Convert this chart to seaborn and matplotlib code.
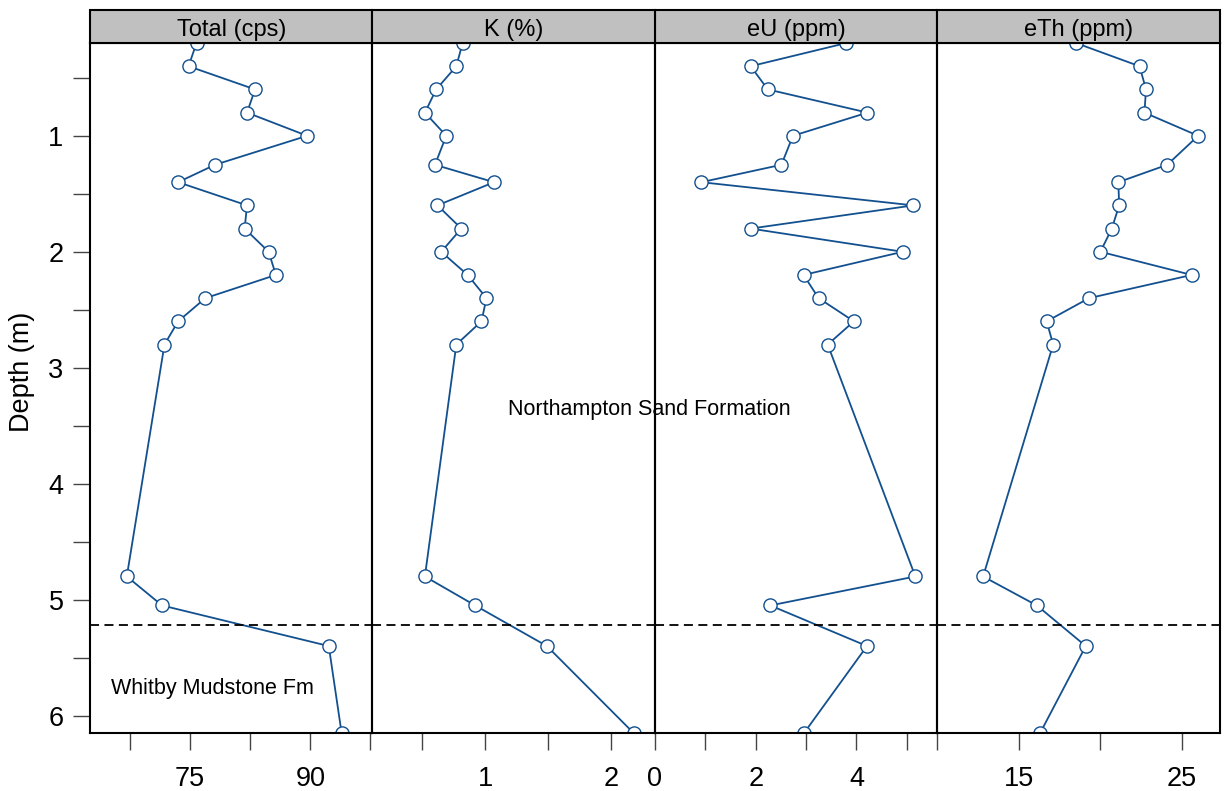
# gamma-ray log profile, four panels sharing depth axis

import matplotlib
matplotlib.use("Agg")
import matplotlib.pyplot as plt
from matplotlib.patches import Rectangle
import seaborn as sns


depth = [0.2, 0.4, 0.6, 0.8, 1.0, 1.25, 1.4, 1.6, 1.8, 2.0, 2.2, 2.4, 2.6, 2.8, 4.8, 5.05, 5.4, 6.15]
total = [75.8, 74.8, 83.1, 82.1, 89.6, 78.1, 73.5, 82.1, 81.8, 84.8, 85.7, 76.9, 73.5, 71.8, 67.1, 71.5, 92.3, 93.9]
k_pct = [0.82, 0.77, 0.61, 0.52, 0.69, 0.60, 1.07, 0.62, 0.81, 0.65, 0.86, 1.01, 0.97, 0.77, 0.52, 0.92, 1.49, 2.18]
eu = [3.80, 1.90, 2.24, 4.22, 2.74, 2.51, 0.92, 5.13, 1.90, 4.92, 2.95, 3.25, 3.95, 3.43, 5.17, 2.29, 4.21, 2.96]
eth = [18.5, 22.4, 22.8, 22.7, 26.0, 24.1, 21.1, 21.15, 20.7, 20.0, 25.6, 19.3, 16.7, 17.1, 12.8, 16.1, 19.1, 16.3]

titles = ["Total (cps)", "K (%)", "eU (ppm)", "eTh (ppm)"]
series = [total, k_pct, eu, eth]
xlims = [(62.5, 97.75), (0.103, 2.35), (0.0, 5.61), (10.0, 27.34)]
xticks = [[67.5, 75, 82.5, 90, 97.5], [0.5, 1, 1.5, 2], [0, 1, 2, 3, 4, 5], [10, 15, 20, 25]]
xticklabels = [["", "75", "", "90", ""], ["", "1", "", "2"], ["0", "", "2", "", "4", ""], ["", "15", "", "25"]]

yticks = [0.5, 1, 1.5, 2, 2.5, 3, 3.5, 4, 4.5, 5, 5.5, 6]
yticklabels = ["", "1", "", "2", "", "3", "", "4", "", "5", "", "6"]

boundary = 5.22

blue = "#12508f"


def main():
    sns.set_style("white")
    plt.rcParams['font.family'] = ['Liberation Sans', 'DejaVu Sans']
    plt.rcParams['text.color'] = 'black'
    plt.rcParams['axes.labelcolor'] = 'black'
    plt.rcParams['xtick.labelcolor'] = 'black'
    plt.rcParams['ytick.labelcolor'] = 'black'

    fig, axes = plt.subplots(1, 4, figsize=(12.27, 7.91), dpi=100, sharey=True)
    fig.subplots_adjust(left=0.0733, right=0.9943, bottom=0.0733, top=0.9456, wspace=0)
    fig.patch.set_facecolor("white")

    strip_h = 33 / 690

    for i, ax in enumerate(axes):
        ax.set_facecolor("none")
        sns.lineplot(x=series[i], y=depth, orient="y", sort=False, estimator=None, ax=ax,
                     color=blue, lw=1.3, marker="o", markersize=9.5,
                     markerfacecolor="white", markeredgecolor=blue, markeredgewidth=1)
        ax.axhline(boundary, color="black", ls=(0, (5, 3)), lw=1.3)

        ax.set_xlim(*xlims[i])
        ax.set_xticks(xticks[i])
        ax.set_xticklabels(xticklabels[i])
        ax.set_xlabel("")
        ax.tick_params(axis="x", direction="out", length=12, width=1, color="#444444",
                       labelsize=19.5, pad=12, bottom=True, labelcolor="black")

        for sp in ax.spines.values():
            sp.set_color("black")
            sp.set_linewidth(1.5)

        # strip on top
        ax.add_patch(Rectangle((0, 1), 1, strip_h, transform=ax.transAxes, clip_on=False,
                               facecolor="#c0c0c0", edgecolor="black", lw=1.5, zorder=5))
        ax.text(0.5, 1 + strip_h * 0.4, titles[i], transform=ax.transAxes,
                ha="center", va="center", fontsize=17, color="black", zorder=6)

        if i > 0:
            ax.tick_params(axis="y", left=False)

    ax0 = axes[0]
    ax0.set_ylim(6.15, 0.2)
    ax0.set_yticks(yticks)
    ax0.set_yticklabels(yticklabels)
    ax0.tick_params(axis="y", direction="out", length=12, width=1, color="#444444",
                    labelsize=19.5, pad=7, left=True, labelcolor="black")
    ax0.set_ylabel("Depth (m)", fontsize=19.5, color="black")
    ax0.yaxis.set_label_coords(-0.195, 0.523)

    ax0.text(65.1, 5.77, "Whitby Mudstone Fm", ha="left", va="center", fontsize=15.5,
             color="black")
    axes[1].set_zorder(3)
    axes[1].text(2.305, 3.36, "Northampton Sand Formation", ha="center", va="center",
                 fontsize=15.5, color="black", clip_on=False, zorder=7)

    plt.savefig("out.png", dpi=100)


if __name__ == "__main__":
    main()
